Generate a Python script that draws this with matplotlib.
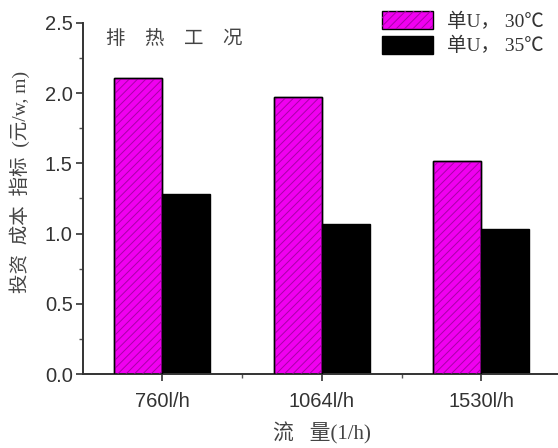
import matplotlib
matplotlib.use("Agg")
import matplotlib.pyplot as plt
import numpy as np
from matplotlib.patches import Patch
from matplotlib.ticker import MultipleLocator

categories = ["760l/h", "1064l/h", "1530l/h"]
series_30 = [2.11, 1.97, 1.52]
series_35 = [1.28, 1.07, 1.03]
legend_labels = ["单U， 30℃", "单U， 35℃"]
title_text = "排　热　工　况"
xlabel_text = "流   量(1/h)"
ylabel_text = "投资  成本  指标  (元/w, m)"

cjk = ["Noto Sans CJK SC", "DejaVu Sans"]
serif_cjk = ["Liberation Serif", "Noto Sans CJK SC", "DejaVu Sans"]
tick_font = ["Liberation Sans", "DejaVu Sans"]

plt.rcParams["hatch.linewidth"] = 0.7

fig = plt.figure(figsize=(5.58, 4.48), dpi=100)
ax = fig.add_axes([82.5/558, 74/448, (561-82.5)/558, 351/448])

x = np.arange(len(categories))
w = 0.3
magenta = "#f000f0"
hatch_col = "#a800a8"

ax.bar(x - w/2, series_30, w, facecolor=magenta, edgecolor="black", linewidth=1.0, zorder=2)
ax.bar(x - w/2, series_30, w, facecolor="none", edgecolor=hatch_col, hatch="////", linewidth=0, zorder=3)
ax.bar(x - w/2, series_30, w, facecolor="none", edgecolor="black", linewidth=1.0, zorder=4)
ax.bar(x + w/2, series_35, w, facecolor="black", edgecolor="black", linewidth=1.0, zorder=2)

ax.set_xlim(-0.5, 2.5)
ax.set_ylim(0, 2.5)
ax.set_xticks(x)
ax.set_xticklabels(categories, family=tick_font, fontsize=14.5, color="#333333")
ax.set_yticks([0, 0.5, 1.0, 1.5, 2.0, 2.5])
ax.set_yticklabels(["0.0", "0.5", "1.0", "1.5", "2.0", "2.5"], family=tick_font, fontsize=14.5, color="#333333")
ax.yaxis.set_minor_locator(MultipleLocator(0.25))
ax.set_xticks([0.5, 1.5], minor=True)

for s in ["top", "right"]:
    ax.spines[s].set_visible(False)
for s in ["left", "bottom"]:
    ax.spines[s].set_linewidth(1.4)
    ax.spines[s].set_color("#333333")

ax.tick_params(axis="both", which="major", direction="out", length=5, width=1.2, color="#333333")
ax.tick_params(axis="y", which="major", pad=2)
ax.tick_params(axis="x", which="major", pad=8)
ax.tick_params(axis="both", which="minor", direction="out", length=3, width=1.0, color="#555555")

ax.text(0.05, 0.985, title_text, transform=ax.transAxes, family=cjk, fontsize=14,
        color="#444444", va="top", ha="left")

ax.set_xlabel(xlabel_text, family=serif_cjk, fontsize=15, color="#444444", labelpad=8)
fig.text(20/558, 1 - 182/448, ylabel_text, rotation=90, ha="center", va="center",
         family=serif_cjk, fontsize=14, color="#444444")

h1 = (Patch(facecolor=magenta, edgecolor="black", linewidth=1.0),
      Patch(facecolor="none", edgecolor=hatch_col, hatch="////", linewidth=0))
h2 = Patch(facecolor="black", edgecolor="black", linewidth=1.0)
leg = fig.legend([h1, h2], legend_labels, loc="upper left",
                 bbox_to_anchor=(382/558, 1 - 11/448), frameon=False,
                 prop={"family": serif_cjk, "size": 14},
                 borderpad=0, borderaxespad=0, handlelength=2.63, handleheight=1.05,
                 handletextpad=0.7, labelspacing=0.26)
for t in leg.get_texts():
    t.set_color("#333333")

fig.savefig("out.png", dpi=100)
